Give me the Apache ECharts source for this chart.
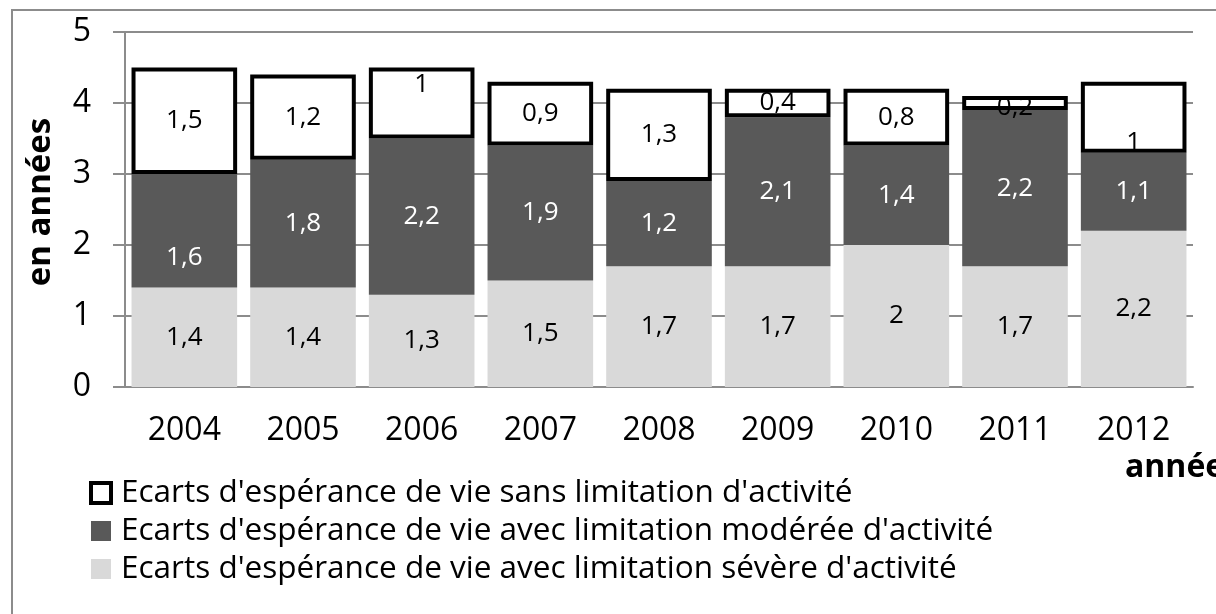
<!DOCTYPE html>
<html>
<head>
<meta charset="utf-8">
<script src="https://cdn.jsdelivr.net/npm/echarts@6/dist/echarts.min.js"></script>
<style>
  html, body { margin: 0; padding: 0; background: #fff; }
  #chart { width: 1216px; height: 614px; }
</style>
</head>
<body>
<div id="chart"></div>
<script>
// data
const years = ["2004", "2005", "2006", "2007", "2008", "2009", "2010", "2011", "2012"];
const severe = [1.4, 1.4, 1.3, 1.5, 1.7, 1.7, 2.0, 1.7, 2.2];
const moderate = [1.6, 1.8, 2.2, 1.9, 1.2, 2.1, 1.4, 2.2, 1.1];
const noLimit = [1.5, 1.2, 1.0, 0.9, 1.3, 0.4, 0.8, 0.2, 1.0];
const yTicks = [0, 1, 2, 3, 4, 5];

const nameNoLimit = "Ecarts d'espérance de vie sans limitation d'activité";
const nameModerate = "Ecarts d'espérance de vie avec limitation modérée d'activité";
const nameSevere = "Ecarts d'espérance de vie avec limitation sévère d'activité";

const FONT = "Open Sans";
const GRID_GREY = "#8c8c8c";

// a few labels were nudged by hand in the original
const moderateShift = { 0: 27 };
const noLimitShift = { 2: -18, 7: 5, 8: 25 };

function withShift(values, shift) {
  return values.map((v, i) =>
    shift[i] ? { value: v, label: { offset: [0, shift[i]] } } : v
  );
}

const fmt = p => String(p.value).replace(".", ",");

const chart = echarts.init(document.getElementById("chart"));

const option = {
  animation: false,
  textStyle: { fontFamily: FONT },
  grid: { left: 125, top: 32, width: 1068, height: 355 },
  xAxis: {
    type: "category",
    data: years,
    axisLine: { lineStyle: { color: GRID_GREY, width: 2 } },
    axisTick: { length: 12, lineStyle: { color: GRID_GREY, width: 2 } },
    axisLabel: { color: "#000", fontSize: 32, fontFamily: FONT, margin: 28 }
  },
  yAxis: {
    type: "value",
    min: yTicks[0],
    max: yTicks[yTicks.length - 1],
    interval: 1,
    axisLine: { show: true, lineStyle: { color: GRID_GREY, width: 2 } },
    axisTick: { show: true, length: 12, lineStyle: { color: GRID_GREY, width: 2 } },
    splitLine: { lineStyle: { color: GRID_GREY, width: 2 } },
    axisLabel: { color: "#000", fontSize: 32, fontFamily: FONT, margin: 34 }
  },
  legend: {
    orient: "vertical",
    left: 89,
    top: 477,
    padding: 0,
    icon: "rect",
    itemWidth: 20,
    itemHeight: 20,
    itemGap: 6,
    textStyle: { fontSize: 31.5, lineHeight: 31.5, color: "#000", fontFamily: FONT, padding: [0, 0, 0, 5] },
    data: [
      { name: nameNoLimit, itemStyle: { color: "#fff", borderColor: "#000", borderWidth: 4 } },
      { name: nameModerate },
      { name: nameSevere }
    ]
  },
  series: [
    {
      name: nameSevere,
      type: "bar",
      stack: "total",
      barCategoryGap: "11%",
      data: severe,
      itemStyle: { color: "#d9d9d9" },
      label: { show: true, position: "inside", color: "#000", fontSize: 26, fontFamily: FONT, formatter: fmt }
    },
    {
      name: nameModerate,
      type: "bar",
      stack: "total",
      data: withShift(moderate, moderateShift),
      itemStyle: { color: "#595959" },
      label: { show: true, position: "inside", color: "#fff", fontSize: 26, fontFamily: FONT, formatter: fmt }
    },
    {
      name: nameNoLimit,
      type: "bar",
      stack: "total",
      data: withShift(noLimit, noLimitShift),
      itemStyle: { color: "#fff", borderColor: "#000", borderWidth: 4 },
      label: { show: true, position: "inside", color: "#000", fontSize: 26, fontFamily: FONT, formatter: fmt }
    }
  ],
  graphic: [
    {
      type: "rect",
      z: -10,
      shape: { x: 12, y: 10, width: 1300, height: 700 },
      style: { fill: "none", stroke: GRID_GREY, lineWidth: 2 }
    },
    {
      type: "text",
      x: 41,
      y: 202,
      rotation: Math.PI / 2,
      style: {
        text: "en années",
        font: "bold 33px '" + FONT + "'",
        fill: "#000",
        align: "center",
        verticalAlign: "middle"
      }
    },
    {
      type: "text",
      x: 1125,
      y: 468,
      style: {
        text: "année",
        font: "bold 32px '" + FONT + "'",
        fill: "#000",
        align: "left",
        verticalAlign: "middle"
      }
    }
  ]
};

chart.setOption(option);
</script>
</body>
</html>
